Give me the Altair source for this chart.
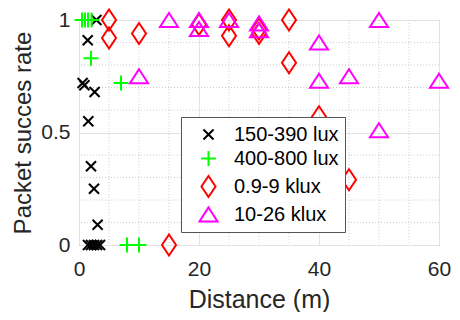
import altair as alt
import pandas as pd

SERIES = ["150-390 lux", "400-800 lux", "0.9-9 klux", "10-26 klux"]
COLORS = ["#000000", "#00ff00", "#ff0000", "#ff00ff"]
SHAPES = [
    "M-0.48,-0.48L0.48,0.48M-0.48,0.48L0.48,-0.48",
    "M-0.71,0L0.71,0M0,-0.71L0,0.71",
    "M0,-1L0.67,0L0,1L-0.67,0Z",
    "M0,-0.67L0.86,0.67L-0.86,0.67Z",
]

BLACK_X = [2.9, 1.45, 0.6, 0.9, 2.6, 1.55, 2.0, 2.5, 3.1, 1.5, 2.0, 2.5, 3.0, 3.5]
BLACK_Y = [1.0, 0.91, 0.72, 0.71, 0.68, 0.55, 0.35, 0.25, 0.09, 0, 0, 0, 0, 0]

GREEN_X = [0.5, 1.0, 1.5, 2.1, 2.0, 7.0, 8.0, 10.0]
GREEN_Y = [1.0, 1.0, 1.0, 1.0, 0.83, 0.72, 0, 0]

RED_X = [5, 5, 10, 15, 20, 25, 25, 30, 30, 35, 35, 40, 45]
RED_Y = [1.0, 0.92, 0.94, 0, 0.98, 1.0, 0.93, 0.96, 0.94, 1.0, 0.81, 0.57, 0.29]

MAG_X = [10, 15, 20, 20, 25, 30, 30, 40, 40, 45, 50, 50, 60]
MAG_Y = [0.75, 1.0, 1.0, 0.96, 1.0, 0.985, 0.955, 0.9, 0.73, 0.75, 1.0, 0.51, 0.73]

X_TICKS = [0, 20, 40, 60]
Y_TICKS = [0, 0.5, 1]
MINOR_X = [5, 10, 15, 25, 30, 35, 45, 50, 55]
MINOR_Y = [0.1, 0.2, 0.3, 0.4, 0.6, 0.7, 0.8, 0.9]

rows = []
for name, xs, ys in zip(SERIES, [BLACK_X, GREEN_X, RED_X, MAG_X], [BLACK_Y, GREEN_Y, RED_Y, MAG_Y]):
    for x, y in zip(xs, ys):
        rows.append({"series": name, "dist": x, "rate": y})
df = pd.DataFrame(rows)

FONT = "Liberation Sans"
xscale = alt.Scale(domain=[0, 60], nice=False, zero=False)
yscale = alt.Scale(domain=[0, 1], nice=False, zero=False)
xaxis = alt.Axis(values=X_TICKS, grid=True, ticks=False, domain=False, labelFlush=False,
                 labelPadding=13, titlePadding=8, format="d")
yaxis = alt.Axis(values=Y_TICKS, grid=True, ticks=False, domain=False, labelFlush=False,
                 labelPadding=9, titlePadding=5, titleFontSize=24, format="~r")
XT = "Distance (m)"
YT = "Packet succes rate"

minor_x = alt.Chart(pd.DataFrame({"v": MINOR_X})).mark_rule(
    color="#cccccc", strokeDash=[1, 2], strokeWidth=1
).encode(x=alt.X("v:Q", scale=xscale, axis=xaxis, title=XT))

minor_y = alt.Chart(pd.DataFrame({"v": MINOR_Y})).mark_rule(
    color="#cccccc", strokeDash=[1, 2], strokeWidth=1
).encode(y=alt.Y("v:Q", scale=yscale, axis=yaxis, title=YT))

legend = alt.Legend(
    orient="none", legendX=102, legendY=97, padding=6,
    fillColor="white", strokeColor="#555555",
    labelFont=FONT, labelFontSize=20, labelColor="#000000",
    symbolSize=441, symbolStrokeWidth=2, symbolOffset=10, labelOffset=14,
    rowPadding=2,
)

points = alt.Chart(df).mark_point(filled=False, size=441, strokeWidth=2, opacity=1).encode(
    x=alt.X("dist:Q", scale=xscale, title=XT, axis=xaxis),
    y=alt.Y("rate:Q", scale=yscale, title=YT, axis=yaxis),
    color=alt.Color("series:N", scale=alt.Scale(domain=SERIES, range=COLORS), title=None, legend=legend),
    shape=alt.Shape("series:N", scale=alt.Scale(domain=SERIES, range=SHAPES), title=None, legend=legend),
)

chart = alt.layer(minor_x, minor_y, points).properties(
    width=360, height=225,
    autosize=alt.AutoSizeParams(type="none"),
    padding={"left": 71, "top": 12, "right": 13, "bottom": 67},
).configure_view(stroke="#4d4d4d", strokeWidth=1).configure_axis(
    labelFont=FONT, titleFont=FONT, labelFontSize=21, titleFontSize=25,
    labelColor="#262626", titleColor="#262626", titleFontWeight="normal",
    gridColor="#e3e3e3", gridWidth=1,
)

chart.save("out.html", embed_options={"renderer": "svg", "actions": False})
